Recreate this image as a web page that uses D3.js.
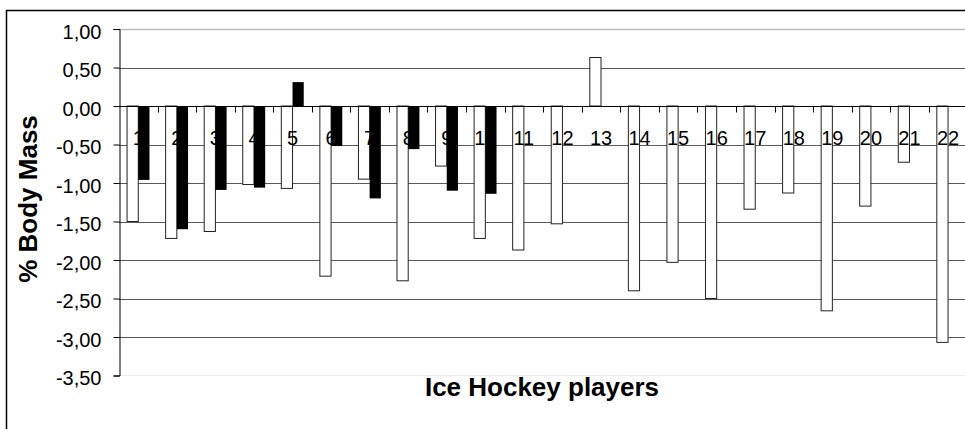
<!DOCTYPE html>
<html>
<head>
<meta charset="utf-8">
<script src="https://cdn.jsdelivr.net/npm/d3@7"></script>
<style>
  html, body { margin: 0; padding: 0; background: #fff; }
  svg { display: block; font-family: Arial, 'Liberation Sans', sans-serif; }
</style>
</head>
<body>
<svg id="chart" width="965" height="429"></svg>
<script>
// % body mass change per player, two measurements (white / black bars)
const players = ['1', '2', '3', '4', '5', '6', '7', '8', '9', '10', '11',
  '12', '13', '14', '15', '16', '17', '18', '19', '20', '21', '22']
const whiteValues = [-1.50, -1.72, -1.63, -1.02, -1.07, -2.21, -0.95, -2.27, -0.78, -1.72, -1.87,
  -1.53, 0.63, -2.40, -2.03, -2.50, -1.34, -1.13, -2.66, -1.30, -0.73, -3.07]
const blackValues = [-0.96, -1.60, -1.09, -1.06, 0.31, -0.52, -1.20, -0.56, -1.10, -1.14]
const yTicks = [1, 0.5, 0, -0.5, -1, -1.5, -2, -2.5, -3, -3.5]
const yTitle = '% Body Mass'
const xTitle = 'Ice Hockey players'

const svg = d3.select('#chart')
const plotLeft = 119
const plotTop = 29
const plotBottom = 375.5
const step = 38.56

const fmt = d3.formatLocale({
  decimal: ',', thousands: '.', grouping: [3], currency: ['', ''], minus: '-'
}).format('.2f')

const x = d3.scaleBand()
  .domain(players)
  .range([plotLeft, plotLeft + step * players.length])
  .padding(0)

const inner = d3.scaleBand()
  .domain(['white', 'black'])
  .range([0, x.bandwidth()])
  .paddingInner(0)
  .paddingOuter(0.72)

const y = d3.scaleLinear()
  .domain([-3.5, 1])
  .range([plotBottom, plotTop])

// outer chart border
svg.append('rect')
  .attr('x', 6.5).attr('y', 10.5)
  .attr('width', 1000).attr('height', 500)
  .attr('fill', 'none').attr('stroke', '#000').attr('stroke-width', 1.5)

// plot area edges
svg.append('line')
  .attr('x1', plotLeft).attr('x2', 965)
  .attr('y1', y(1) + 0.5).attr('y2', y(1) + 0.5)
  .attr('stroke', '#bdbdbd').attr('stroke-width', 1.5)
svg.append('line')
  .attr('x1', plotLeft).attr('x2', 965)
  .attr('y1', y(-3.5)).attr('y2', y(-3.5))
  .attr('stroke', '#eeeeee')

// gridlines
svg.append('g')
  .selectAll('line')
  .data(yTicks.filter(d => d < 1 && d > -3.5 && d !== 0))
  .join('line')
  .attr('x1', plotLeft).attr('x2', 965)
  .attr('y1', d => Math.round(y(d)) + 0.5)
  .attr('y2', d => Math.round(y(d)) + 0.5)
  .attr('stroke', '#5a5a5a')

const bar = (sel, key) => sel
  .attr('x', (d, i) => x(players[i]) + inner(key))
  .attr('width', inner.bandwidth())
  .attr('y', d => y(Math.max(0, d)))
  .attr('height', d => Math.abs(y(d) - y(0)))

// white bars
svg.append('g')
  .selectAll('rect')
  .data(whiteValues)
  .join('rect')
  .call(bar, 'white')
  .attr('fill', '#fff')
  .attr('stroke', '#222')
  .attr('stroke-width', 1)

// category labels sit between the two series
svg.append('g')
  .selectAll('text')
  .data(players)
  .join('text')
  .attr('x', d => x(d) + x.bandwidth() / 2)
  .attr('y', y(0) + 38.5)
  .attr('text-anchor', 'middle')
  .attr('font-size', 20)
  .attr('fill', '#000')
  .text(d => d)

// black bars
svg.append('g')
  .selectAll('rect')
  .data(blackValues)
  .join('rect')
  .call(bar, 'black')
  .attr('fill', '#000')

// category axis at zero
const zeroY = Math.round(y(0)) + 0.5
svg.append('line')
  .attr('x1', plotLeft).attr('x2', 965)
  .attr('y1', zeroY).attr('y2', zeroY)
  .attr('stroke', '#000')
svg.append('g')
  .selectAll('line')
  .data(players)
  .join('line')
  .attr('x1', d => Math.round(x(d) + x.bandwidth()) + 0.5)
  .attr('x2', d => Math.round(x(d) + x.bandwidth()) + 0.5)
  .attr('y1', zeroY).attr('y2', zeroY + 6)
  .attr('stroke', '#000')

// value axis
const yAxis = svg.append('g')
  .attr('transform', 'translate(' + (plotLeft + 0.5) + ',0)')
  .call(d3.axisLeft(y).tickValues(yTicks).tickFormat(fmt).tickSize(6).tickPadding(12))
yAxis.select('.domain').attr('stroke', '#000')
yAxis.selectAll('.tick line').attr('stroke', '#000')
yAxis.selectAll('.tick text')
  .attr('font-size', 20)
  .attr('font-family', 'Arial, Liberation Sans, sans-serif')
  .attr('fill', '#000')
  .attr('dy', '0.45em')

// titles
svg.append('text')
  .attr('transform', 'translate(37,199) rotate(-90)')
  .attr('text-anchor', 'middle')
  .attr('font-size', 26)
  .attr('font-weight', 'bold')
  .text(yTitle)

svg.append('text')
  .attr('x', 542)
  .attr('y', 396)
  .attr('text-anchor', 'middle')
  .attr('font-size', 26)
  .attr('font-weight', 'bold')
  .text(xTitle)
</script>
</body>
</html>
